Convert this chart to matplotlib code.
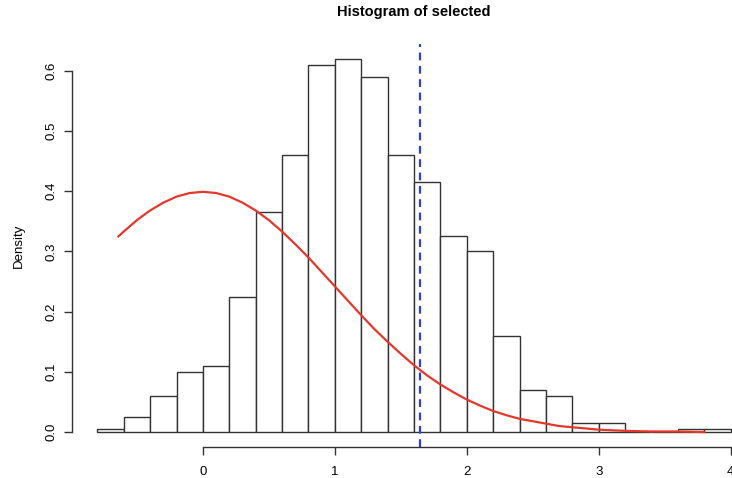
import matplotlib
matplotlib.use("Agg")
import matplotlib.pyplot as plt

# histogram of "selected" (bin width 0.2, density scale)
bin_edges = [-0.8, -0.6, -0.4, -0.2, 0.0, 0.2, 0.4, 0.6, 0.8, 1.0, 1.2, 1.4, 1.6,
             1.8, 2.0, 2.2, 2.4, 2.6, 2.8, 3.0, 3.2, 3.4, 3.6, 3.8, 4.0]
densities = [0.005, 0.025, 0.06, 0.10, 0.11, 0.225, 0.365, 0.46, 0.61, 0.62, 0.59, 0.46,
             0.415, 0.325, 0.30, 0.16, 0.07, 0.06, 0.015, 0.015, 0.0, 0.0, 0.005, 0.005]

# red reference curve
curve_x = [-0.64, -0.6, -0.5, -0.4, -0.3, -0.2, -0.1, 0.0, 0.1, 0.2, 0.3, 0.4, 0.5, 0.6,
           0.7, 0.8, 0.9, 1.0, 1.1, 1.2, 1.3, 1.4, 1.5, 1.6, 1.7, 1.8, 1.9, 2.0, 2.1,
           2.2, 2.3, 2.4, 2.5, 2.6, 2.7, 2.8, 2.9, 3.0, 3.2, 3.4, 3.6, 3.8]
curve_y = [0.325, 0.333, 0.352, 0.368, 0.381, 0.391, 0.397, 0.399, 0.397, 0.391, 0.381,
           0.368, 0.352, 0.333, 0.312, 0.290, 0.266, 0.242, 0.218, 0.194, 0.171, 0.150,
           0.130, 0.111, 0.094, 0.079, 0.066, 0.054, 0.044, 0.035, 0.028, 0.022, 0.018,
           0.014, 0.010, 0.008, 0.006, 0.004, 0.002, 0.001, 0.001, 0.000]

cutoff = 1.645
x_ticks = [0, 1, 2, 3, 4]
y_ticks = [0.0, 0.1, 0.2, 0.3, 0.4, 0.5, 0.6]

plt.rcParams["font.family"] = ["Liberation Sans", "DejaVu Sans"]

W, H = 732, 478
fig = plt.figure(figsize=(W / 100, H / 100), dpi=100)
# plot region in pixels (extends past the right edge, like the cropped original)
left, right, top, bottom = 72, 756, 43.8, 447
ax = fig.add_axes([left / W, (H - bottom) / H, (right - left) / W, (bottom - top) / H])

widths = [b - a for a, b in zip(bin_edges[:-1], bin_edges[1:])]
ax.bar(bin_edges[:-1], densities, width=widths, align="edge",
       facecolor="white", edgecolor="#333333", linewidth=1.0)

ax.plot(curve_x, curve_y, color="#e3382b", linewidth=1.6)
ax.axvline(cutoff, color="#2b3fe6", linewidth=1.6, dashes=(3.5, 2.5))

ax.set_xlim(-0.992, 4.192)
ax.set_ylim(-0.0248, 0.6448)

for s in ["top", "right"]:
    ax.spines[s].set_visible(False)
ax.spines["left"].set_bounds(0, 0.6)
ax.spines["bottom"].set_bounds(0, 4)
for s in ["left", "bottom"]:
    ax.spines[s].set_color("#333333")
    ax.spines[s].set_linewidth(1.0)

ax.set_xticks(x_ticks)
ax.set_xticklabels([str(t) for t in x_ticks])
ax.set_yticks(y_ticks)
ax.set_yticklabels([f"{t:.1f}" for t in y_ticks], rotation=90, va="center")
ax.tick_params(direction="out", length=6, width=1.0, color="#333333", labelsize=9.5)
ax.tick_params(axis="x", pad=7.5)
ax.tick_params(axis="y", pad=4.5)

ax.set_ylabel("Density", fontsize=9.5, labelpad=15)
fig.text((left + right) / 2 / W, 1 - 12 / H, "Histogram of selected",
         ha="center", va="center", fontsize=10.5, fontweight="bold")

fig.savefig("out.png", dpi=100)
